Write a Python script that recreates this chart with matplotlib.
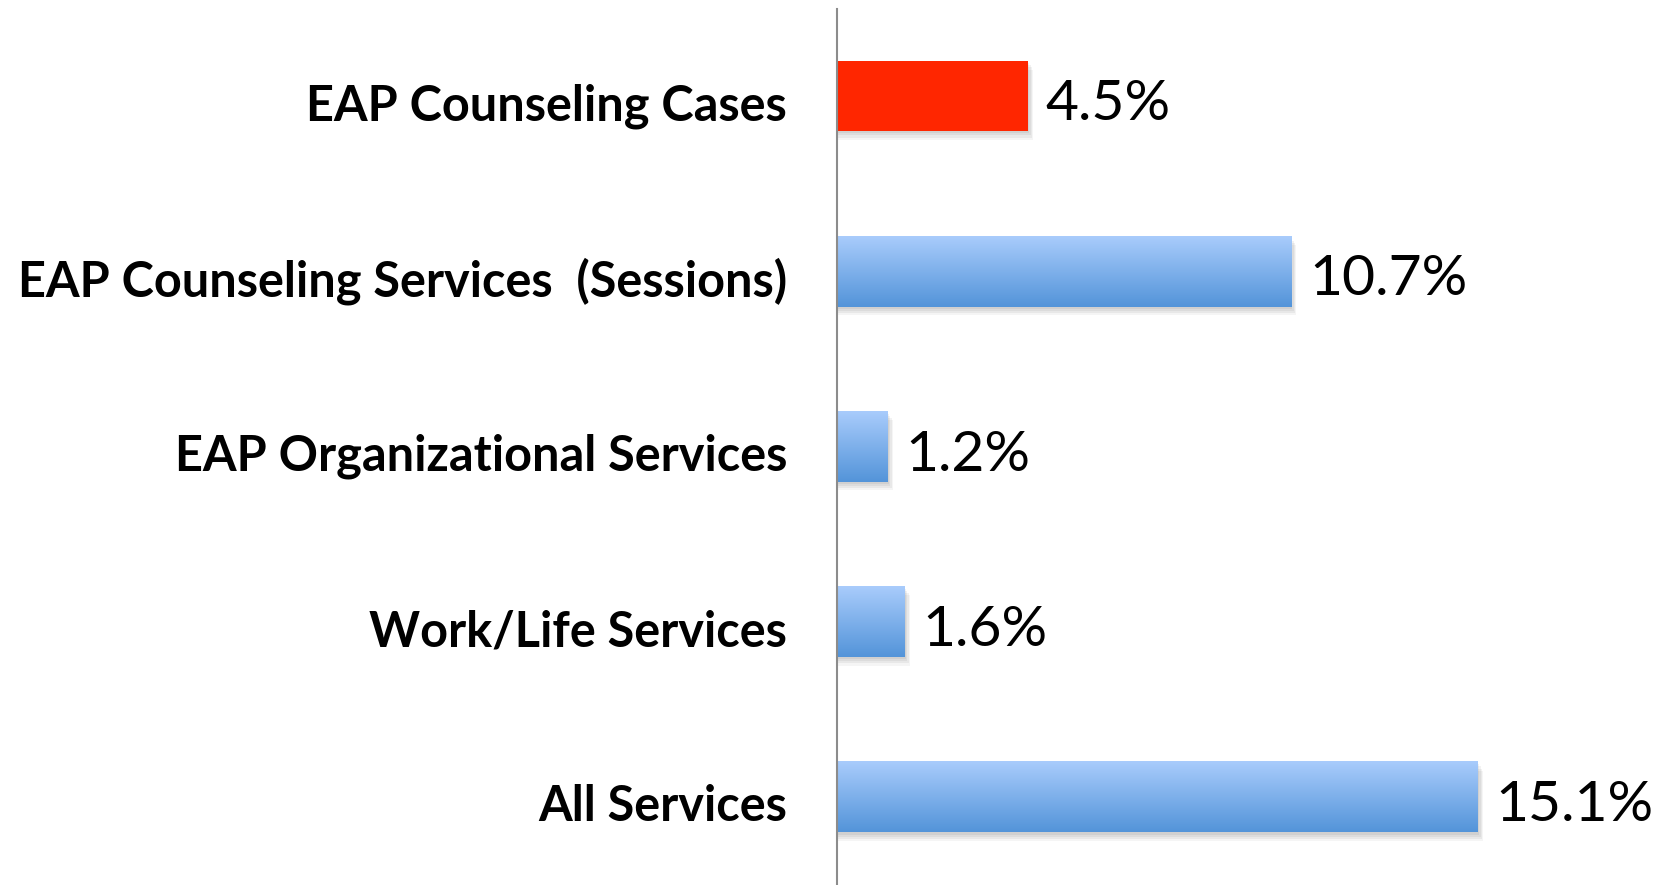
import matplotlib
matplotlib.use("Agg")
import matplotlib.pyplot as plt
import numpy as np
from matplotlib.patches import Rectangle
from matplotlib.colors import LinearSegmentedColormap
from matplotlib.transforms import ScaledTranslation

categories = ["EAP Counseling Cases", "EAP Counseling Services  (Sessions)",
              "EAP Organizational Services", "Work/Life Services", "All Services"]
values = [4.5, 10.7, 1.2, 1.6, 15.1]
labels = ["4.5%", "10.7%", "1.2%", "1.6%", "15.1%"]
highlight = [True, False, False, False, False]

plt.rcParams['font.family'] = ['Lato', 'DejaVu Sans']

fig = plt.figure(figsize=(16.67, 8.85), dpi=100)
ax = fig.add_axes([837/1667, 0.0, 1 - 837/1667, 1 - 8.5/885])

y = np.arange(len(categories))[::-1]
bh = 0.4
bars = ax.barh(y, values, height=bh, color='none', edgecolor='none', zorder=3)

xmax = (1667 - 837) / 42.45
ax.set_xlim(0, xmax)
ax.set_ylim(-0.5, len(categories) - 0.5)

grad = np.linspace(0, 1, 256).reshape(-1, 1)
cmap = LinearSegmentedColormap.from_list("bl", ["#5394D9", "#A9CCFC"])

down = ScaledTranslation(0, -6 / 72, fig.dpi_scale_trans)

for b, hl, lab in zip(bars, highlight, labels):
    x0, y0 = b.get_x(), b.get_y()
    w, h = b.get_width(), b.get_height()
    for k, a in enumerate([0.05, 0.05, 0.05, 0.04]):
        off = 0.012 * (k + 1)
        ax.add_patch(Rectangle((x0, y0 - off), w + 0.03 * (k + 1), h,
                               facecolor='black', alpha=a, edgecolor='none', zorder=2))
    if hl:
        ax.add_patch(Rectangle((x0, y0), w, h, facecolor='#FF2600', edgecolor='none', zorder=4))
    else:
        ax.imshow(grad, extent=(x0, x0 + w, y0, y0 + h), origin='lower', cmap=cmap,
                  aspect='auto', zorder=4, interpolation='bicubic')
    ax.text(x0 + w + 0.42, y0 + h / 2, lab, va='center', ha='left', fontsize=41,
            color='black', zorder=5, transform=ax.transData + down)

ax.set_xlim(0, xmax)
ax.set_ylim(-0.5, len(categories) - 0.5)
ax.set_yticks(y)
ax.set_yticklabels(categories, fontsize=35, fontweight='bold')
ax.tick_params(axis='y', length=0, pad=36)
down2 = ScaledTranslation(0, -4 / 72, fig.dpi_scale_trans)
for t in ax.get_yticklabels():
    t.set_transform(t.get_transform() + down2)
ax.set_xticks([])
for s in ['top', 'right', 'bottom']:
    ax.spines[s].set_visible(False)
ax.spines['left'].set_color('#8C8C8C')
ax.spines['left'].set_linewidth(1.5)
ax.spines['left'].set_zorder(6)

fig.savefig("out.png", dpi=100)
